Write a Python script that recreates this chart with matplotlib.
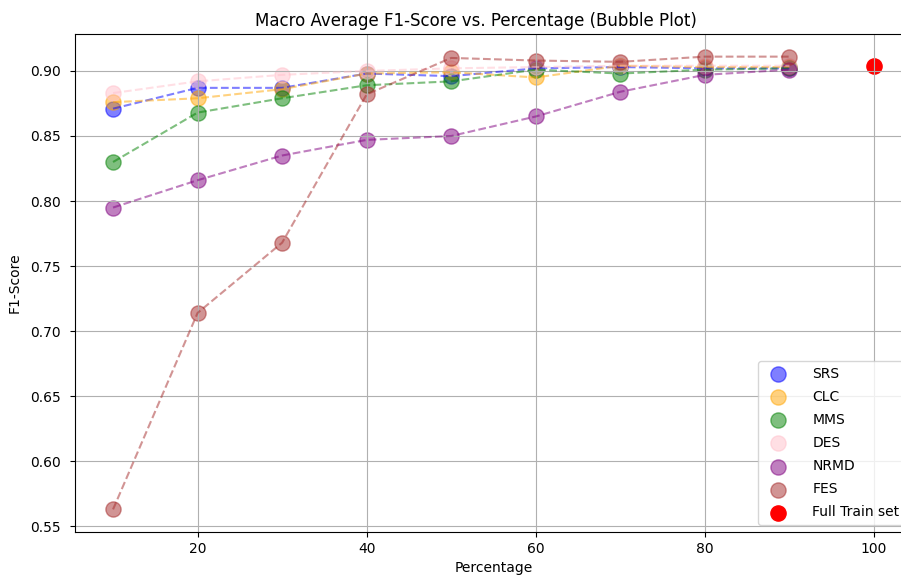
import matplotlib
matplotlib.use("Agg")
import matplotlib.pyplot as plt

percentages = [10, 20, 30, 40, 50, 60, 70, 80, 90]

srs = [0.871, 0.887, 0.887, 0.898, 0.896, 0.902, 0.903, 0.902, 0.902]
clc = [0.876, 0.879, 0.886, 0.898, 0.899, 0.895, 0.904, 0.903, 0.903]
mms = [0.830, 0.868, 0.879, 0.889, 0.892, 0.901, 0.898, 0.901, 0.902]
des = [0.883, 0.892, 0.897, 0.900, 0.902, 0.903, 0.904, 0.904, 0.904]
nrmd = [0.795, 0.816, 0.835, 0.847, 0.850, 0.865, 0.884, 0.897, 0.901]
fes = [0.563, 0.714, 0.768, 0.882, 0.910, 0.908, 0.907, 0.911, 0.911]

full_x = [100]
full_y = [0.904]

methods = ["SRS", "CLC", "MMS", "DES", "NRMD", "FES"]
series = [srs, clc, mms, des, nrmd, fes]
colors = ["blue", "orange", "green", "pink", "purple", "brown"]

fig = plt.figure(figsize=(9.01, 5.82), dpi=100)
ax = fig.add_axes([75 / 901, 1 - 532 / 582, (912 - 75) / 901, (532 - 34) / 582])

for name, vals, c in zip(methods, series, colors):
    ax.scatter(percentages, vals, s=120, color=c, alpha=0.5, label=name)
    ax.plot(percentages, vals, linestyle="--", color=c, alpha=0.5)

ax.scatter(full_x, full_y, s=120, color="red", label="Full Train set")

ax.set_title("Macro Average F1-Score vs. Percentage (Bubble Plot)", x=0.4785)
ax.set_xlabel("Percentage")
ax.set_ylabel("F1-Score", labelpad=6)
ax.tick_params(axis="y", pad=6.5)
ax.grid(True)
ax.legend(loc="lower right", labelspacing=0.66, handletextpad=1.5)

fig.savefig("out.png", dpi=100)
